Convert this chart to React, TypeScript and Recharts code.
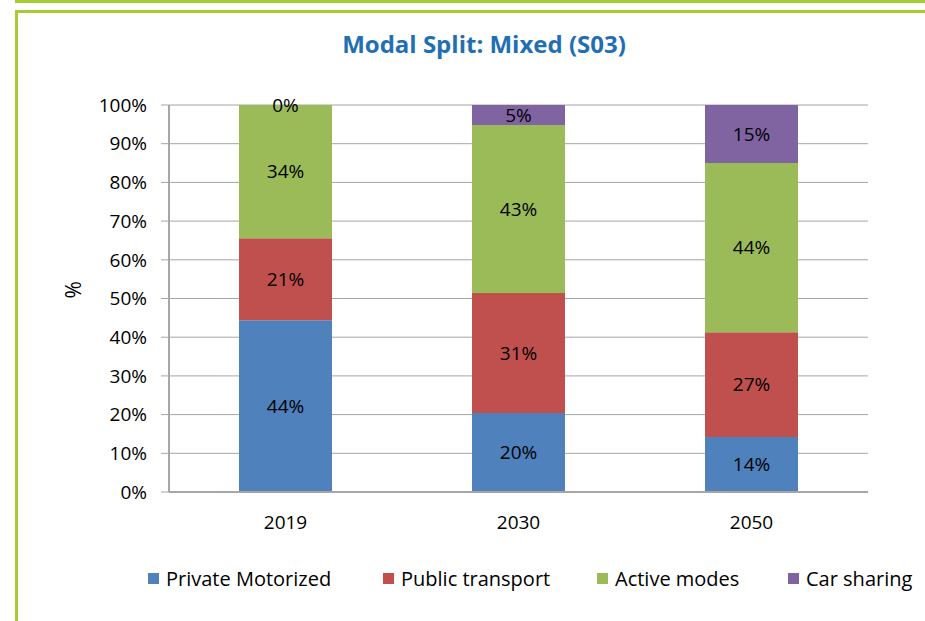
import { BarChart, Bar, XAxis, YAxis, CartesianGrid, LabelList, Label } from 'recharts'

const years = ['2019', '2030', '2050']
const privateMotorized = [44.4, 20.4, 14.2]
const publicTransport = [21.2, 31.0, 27.1]
const activeModes = [34.4, 43.4, 43.7]
const carSharing = [0, 5.2, 15.0]
const yTicks = [0, 10, 20, 30, 40, 50, 60, 70, 80, 90, 100]

const series = [
  { key: 'private', name: 'Private Motorized', color: '#4F81BD' },
  { key: 'public', name: 'Public transport', color: '#C0504D' },
  { key: 'active', name: 'Active modes', color: '#9BBB59' },
  { key: 'car', name: 'Car sharing', color: '#8064A2' },
]

const data = years.map((year, i) => ({
  year,
  private: privateMotorized[i],
  public: publicTransport[i],
  active: activeModes[i],
  car: carSharing[i],
}))

const font = '"Open Sans", sans-serif'
const borderGreen = '#A5CD32'
const legendLeft = [148, 383, 597, 788]

export default function App() {
  return (
    <div style={{ position: 'absolute', left: 0, top: 0, width: 925, height: 621, overflow: 'hidden', background: '#fff' }}>
      <div style={{ position: 'absolute', left: 15, top: -10, width: 1000, height: 10, borderBottom: `3px solid ${borderGreen}`, borderLeft: `3px solid ${borderGreen}` }} />
      <div style={{ position: 'absolute', left: 15, top: 10, width: 1000, height: 700, border: `3px solid ${borderGreen}` }} />
      <div style={{ position: 'absolute', left: 0, top: 27, width: 968, textAlign: 'center', fontFamily: font, fontWeight: 700, fontSize: 24, color: '#1F6FB5' }}>
        Modal Split: Mixed (S03)
      </div>
      <div style={{ position: 'absolute', left: 0, top: 0 }}>
        <BarChart width={925} height={621} data={data} margin={{ top: 105, right: 57, left: 0, bottom: 89 }}>
          <CartesianGrid vertical={false} stroke="#A6A6A6" strokeWidth={1} />
          <XAxis
            dataKey="year"
            height={40}
            tickLine={false}
            axisLine={{ stroke: '#A6A6A6', strokeWidth: 2 }}
            tick={{ fill: '#000', fontSize: 19, fontFamily: font }}
            tickMargin={18}
          />
          <YAxis
            width={169}
            domain={[0, 100]}
            allowDataOverflow
            ticks={yTicks}
            interval={0}
            tickFormatter={(v: number) => `${v}%`}
            tickSize={8}
            tickMargin={14}
            tickLine={{ stroke: '#A6A6A6' }}
            axisLine={{ stroke: '#A6A6A6', strokeWidth: 2 }}
            tick={{ fill: '#000', fontSize: 19, fontFamily: font }}
          >
            <Label value="%" angle={-90} position="insideLeft" offset={74} style={{ fill: '#000', fontSize: 21, fontFamily: font }} />
          </YAxis>
          {series.map((s) => (
            <Bar
              key={s.key}
              dataKey={s.key}
              name={s.name}
              stackId="a"
              fill={s.color}
              barSize={93}
              minPointSize={0.01}
              isAnimationActive={false}
            >
              <LabelList
                dataKey={s.key}
                position="center"
                formatter={(v: number) => `${Math.round(v)}%`}
                style={{ fill: '#000', fontSize: 19, fontFamily: font }}
              />
            </Bar>
          ))}
        </BarChart>
      </div>
      {series.map((s, i) => (
        <div key={s.key} style={{ position: 'absolute', left: legendLeft[i], top: 565, display: 'flex', alignItems: 'center', fontFamily: font, fontSize: 20, color: '#000', whiteSpace: 'nowrap' }}>
          <span style={{ width: 11, height: 11, background: s.color, display: 'inline-block', marginRight: 7 }} />
          <span>{s.name}</span>
        </div>
      ))}
    </div>
  )
}
